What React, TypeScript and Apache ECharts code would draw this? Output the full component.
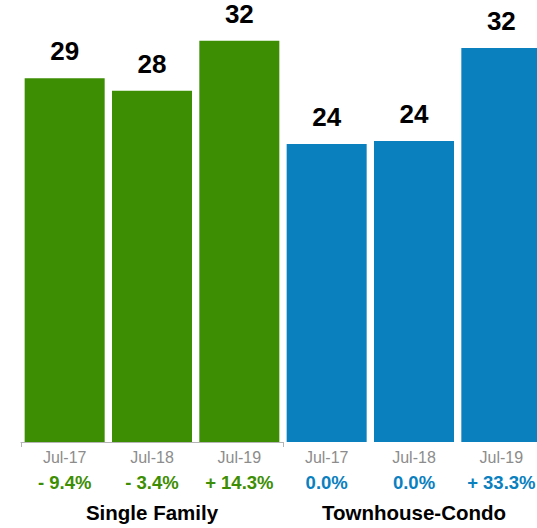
import React, { useEffect, useRef } from "react";
import * as echarts from "echarts";

const categories = ["Jul-17", "Jul-18", "Jul-19"];
const singleFamilyValues = [29, 28, 32];
const townhouseValues = [24.2, 24.45, 32];
const singleFamilyChange = ["- 9.4%", "- 3.4%", "+ 14.3%"];
const townhouseChange = ["0.0%", "0.0%", "+ 33.3%"];
const groupTitles = ["Single Family", "Townhouse-Condo"];

const GREEN = "#3d8e03";
const BLUE = "#0a80bf";
const FONT = "'Liberation Sans', Arial, Helvetica, sans-serif";

export default function App() {
  const ref = useRef<HTMLDivElement>(null);
  useEffect(() => {
    if (!ref.current) return;
    const chart = echarts.init(ref.current, null, { renderer: "svg" });
    const makeX = (idx: number, pct: string[], color: string, showLine: boolean) => ({
      type: "category",
      gridIndex: idx,
      data: categories,
      name: groupTitles[idx],
      nameLocation: "middle",
      nameGap: 70,
      nameTextStyle: {
        fontFamily: FONT,
        fontSize: 20.5,
        fontWeight: "bold",
        color: "#000",
        verticalAlign: "middle",
      },
      axisLine: { show: showLine, lineStyle: { color: "#b5b5b5", width: 1 } },
      axisTick: {
        show: showLine,
        interval: (i: number) => i === 0,
        length: 5,
        lineStyle: { color: "#b5b5b5" },
      },
      axisLabel: {
        interval: 0,
        margin: 3,
        hideOverlap: false,
        formatter: (v: string, i: number) => `{c|${v}}\n{p|${pct[i]}}`,
        rich: {
          c: { fontFamily: FONT, fontSize: 16, color: "#8c8c8c", lineHeight: 25 },
          p: { fontFamily: FONT, fontSize: 18.5, fontWeight: "bold", color, lineHeight: 25 },
        },
      },
    });
    const makeY = (idx: number, max: number) => ({
      type: "value",
      gridIndex: idx,
      min: 0,
      max,
      show: false,
      splitLine: { show: false },
    });
    const label = {
      show: true,
      position: "top",
      distance: 14,
      fontFamily: FONT,
      fontSize: 26,
      fontWeight: "bold",
      color: "#000",
      lineHeight: 26,
      formatter: (p: any) => String(Math.round(p.value)),
    };
    chart.setOption({
      animation: false,
      grid: [
        { left: 21, top: 3, width: 262, height: 439, outerBoundsMode: "none", containLabel: false },
        { left: 283, top: 3, width: 262, height: 439, outerBoundsMode: "none", containLabel: false },
      ],
      xAxis: [makeX(0, singleFamilyChange, GREEN, true), makeX(1, townhouseChange, BLUE, false)],
      yAxis: [makeY(0, 35), makeY(1, 35.66)],
      series: [
        {
          type: "bar",
          xAxisIndex: 0,
          yAxisIndex: 0,
          data: singleFamilyValues,
          barWidth: 80,
          itemStyle: { color: GREEN },
          label,
        },
        {
          type: "bar",
          xAxisIndex: 1,
          yAxisIndex: 1,
          data: townhouseValues,
          barWidth: 80,
          itemStyle: { color: BLUE },
          label,
        },
      ],
    });
    return () => chart.dispose();
  }, []);
  return (
    <div
      ref={ref}
      style={{ position: "fixed", left: 0, top: 0, width: 537, height: 528, background: "#fff" }}
    />
  );
}
